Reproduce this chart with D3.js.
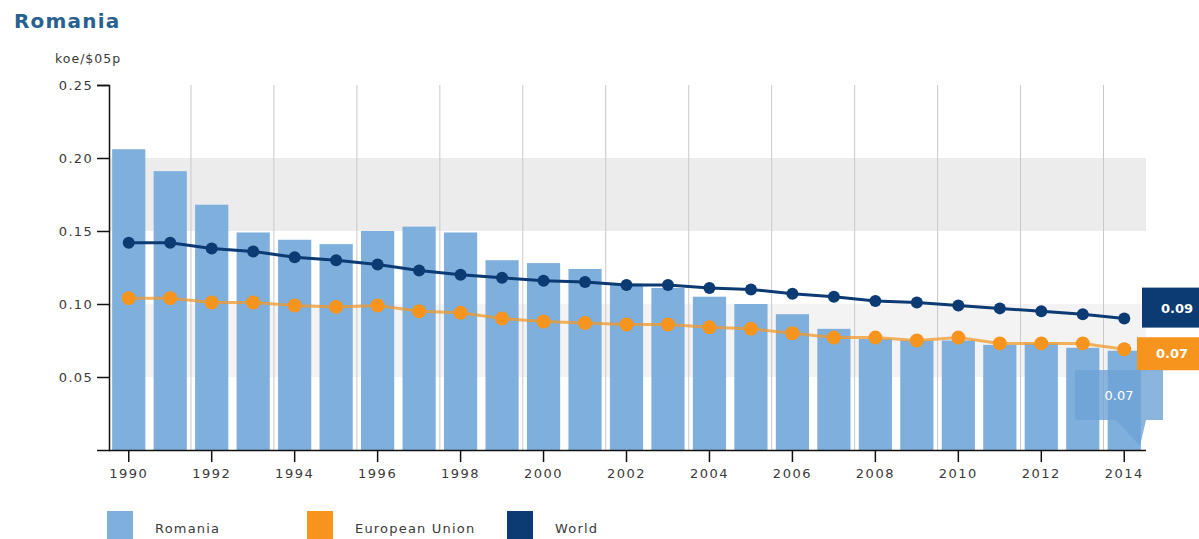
<!DOCTYPE html>
<html><head><meta charset="utf-8">
<script src="https://cdn.jsdelivr.net/npm/d3@7"></script>
<style>
html,body{margin:0;padding:0;background:#fff;}
svg text{font-family:"DejaVu Sans",sans-serif;}
</style></head>
<body>
<svg id="c" width="1199" height="539"></svg>
<script>
const years = ["1990","1991","1992","1993","1994","1995","1996","1997","1998","1999","2000","2001","2002","2003","2004","2005","2006","2007","2008","2009","2010","2011","2012","2013","2014"];
const romania = [0.206,0.191,0.168,0.149,0.144,0.141,0.150,0.153,0.149,0.130,0.128,0.124,0.114,0.111,0.105,0.100,0.093,0.083,0.076,0.075,0.075,0.072,0.073,0.070,0.068];
const world = [0.142,0.142,0.138,0.136,0.132,0.130,0.127,0.123,0.120,0.118,0.116,0.115,0.113,0.113,0.111,0.110,0.107,0.105,0.102,0.101,0.099,0.097,0.095,0.093,0.090];
const eu = [0.104,0.104,0.101,0.101,0.099,0.098,0.099,0.095,0.094,0.090,0.088,0.087,0.086,0.086,0.084,0.083,0.080,0.077,0.077,0.075,0.077,0.073,0.073,0.073,0.069];
const yTicks = [0.05,0.10,0.15,0.20,0.25];
const xTickYears = ["1990","1992","1994","1996","1998","2000","2002","2004","2006","2008","2010","2012","2014"];
const bands = [[0.15,0.20,"#ececec"],[0.05,0.10,"#f3f3f3"]];
const legendItems = [["Romania","#7fafdc"],["European Union","#f7941d"],["World","#0c3a73"]];
const title = "Romania", unit = "koe/$05p";

const svg = d3.select("#c");
const x = d3.scaleBand().domain(years).range([108,1145]).paddingInner(0.2).paddingOuter(0.1);
const y = d3.scaleLinear().domain([0,0.25]).range([450,85]);
const cx = d => x(d) + x.bandwidth()/2;
const step = x.step();

// bands
svg.selectAll("rect.band").data(bands).join("rect")
  .attr("x",109).attr("width",1146-109)
  .attr("y",d=>y(d[1])).attr("height",d=>y(d[0])-y(d[1]))
  .attr("fill",d=>d[2]);

// vertical gridlines between odd/even years
const gridYears = years.filter((d,i)=>i%2===1 && i<years.length-1);
svg.selectAll("line.grid").data(gridYears).join("line")
  .attr("x1",d=>cx(d)+step/2).attr("x2",d=>cx(d)+step/2)
  .attr("y1",y(0.25)).attr("y2",y(0))
  .attr("stroke","#c9c9c9").attr("stroke-width",1);

// bars
svg.selectAll("rect.bar").data(romania).join("rect")
  .attr("x",(d,i)=>x(years[i])).attr("width",x.bandwidth())
  .attr("y",d=>y(d)).attr("height",d=>y(0)-y(d))
  .attr("fill","#7fafdc");

// EU line
const line = d3.line().x((d,i)=>cx(years[i])).y(d=>y(d));
svg.append("path").datum(eu).attr("d",line).attr("fill","none")
  .attr("stroke","#f29a2e").attr("stroke-width",3).attr("stroke-opacity",0.75);
svg.selectAll("circle.eu").data(eu).join("circle")
  .attr("cx",(d,i)=>cx(years[i])).attr("cy",d=>y(d)).attr("r",7)
  .attr("fill","#f7941d");

// World line
svg.append("path").datum(world).attr("d",line).attr("fill","none")
  .attr("stroke","#0c3a73").attr("stroke-width",3);
svg.selectAll("circle.w").data(world).join("circle")
  .attr("cx",(d,i)=>cx(years[i])).attr("cy",d=>y(d)).attr("r",6)
  .attr("fill","#0c3a73");

// Axes
const yAxis = d3.axisLeft(y).tickValues(yTicks).tickFormat(d3.format(".2f")).tickSize(12).tickSizeOuter(12).tickPadding(4);
const gy = svg.append("g").attr("transform","translate(109,0)").call(yAxis);
gy.select(".domain").attr("stroke","#111").attr("stroke-width",1.5);
gy.selectAll(".tick line").attr("stroke","#111").attr("stroke-width",1.5);
gy.selectAll("text").attr("fill","#3a3a3a").style("font-size","13px").style("letter-spacing","1.3px");

const xAxis = d3.axisBottom(x).tickValues(xTickYears).tickSize(12).tickSizeOuter(0).tickPadding(7);
const gx = svg.append("g").attr("transform","translate(0,450)").call(xAxis);
gx.select(".domain").attr("d","M109,0.5H1146").attr("stroke","#111").attr("stroke-width",1.5);
gx.selectAll(".tick line").attr("stroke","#111").attr("stroke-width",1.5);
gx.selectAll("text").attr("fill","#3a3a3a").style("font-size","13px").style("letter-spacing","1.5px");

// Title and unit
svg.append("text").attr("x",14).attr("y",28).text(title)
  .attr("fill","#28618f").style("font-size","20px").style("font-weight","bold").style("letter-spacing","1.2px");
svg.append("text").attr("x",55).attr("y",63).text(unit)
  .attr("fill","#3a3a3a").style("font-size","12.5px").style("letter-spacing","1px");

// End labels
const last = years.length-1;
svg.append("rect").attr("x",1142).attr("y",y(world[last])-31).attr("width",60).attr("height",40).attr("fill","#0c3a73");
svg.append("text").attr("x",1177).attr("y",y(world[last])-6).attr("text-anchor","middle")
  .text(d3.format(".2f")(world[last])).attr("fill","#fff").style("font-size","13px").style("font-weight","bold");
svg.append("rect").attr("x",1137).attr("y",y(eu[last])-12).attr("width",65).attr("height",33).attr("fill","#f7941d");
svg.append("text").attr("x",1172).attr("y",y(eu[last])+9).attr("text-anchor","middle")
  .text(d3.format(".2f")(eu[last])).attr("fill","#fff").style("font-size","13px").style("font-weight","bold");

// Romania tooltip
const tb = {l:1075,r:1163,t:370,b:420};
svg.append("path")
  .attr("d",`M${tb.l},${tb.t}H${tb.r}V${tb.b}H1146L1140,446L1116,${tb.b}H${tb.l}Z`)
  .attr("fill","#6fa3d6").attr("fill-opacity",0.8);
svg.append("text").attr("x",1119).attr("y",400).attr("text-anchor","middle")
  .text(d3.format(".2f")(romania[last])).attr("fill","#fff").style("font-size","13px");

// Legend
const lx = [107,307,507];
legendItems.forEach((d,i)=>{
  svg.append("rect").attr("x",lx[i]).attr("y",511).attr("width",26).attr("height",30).attr("fill",d[1]);
  svg.append("text").attr("x",lx[i]+48).attr("y",533).text(d[0])
    .attr("fill","#3a3a3a").style("font-size","13px").style("letter-spacing","1.2px");
});
</script>
</body></html>
